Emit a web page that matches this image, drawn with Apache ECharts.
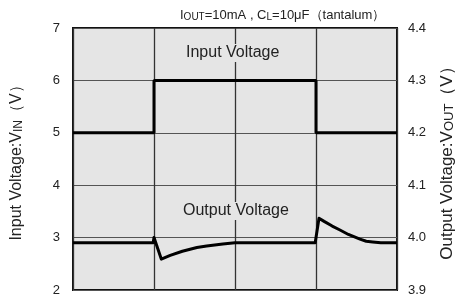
<!DOCTYPE html>
<html>
<head>
<meta charset="UTF-8">
<title>Load transient</title>
<script src="https://cdn.jsdelivr.net/npm/echarts@6/dist/echarts.min.js"></script>
<style>
  html, body { margin: 0; padding: 0; background: #fff; }
  #main { width: 461px; height: 301px; }
</style>
</head>
<body>
<div id="main"></div>
<script type="text/javascript">
    // time axis in grid divisions (0..4)
    var inputTime = [0, 1, 1, 3, 3, 4];
    var inputVolt = [5, 5, 6, 6, 5, 5];

    var outputTime = [0, 0.99, 1.0, 1.09, 1.2, 1.35, 1.53, 1.65, 1.85, 2.0, 2.99, 3.0, 3.037, 3.1, 3.2, 3.296, 3.4, 3.543, 3.62, 3.7, 3.8, 4];
    var outputVolt = [3.99, 3.99, 4.0, 3.959, 3.966, 3.974, 3.981, 3.984, 3.988, 3.99, 3.99, 3.99, 4.037, 4.031, 4.022, 4.0145, 4.006, 3.997, 3.993, 3.9916, 3.99, 3.99];

    var leftTicks = [2, 7, 1];          // min, max, interval
    var rightTicks = [3.9, 4.4, 0.1];

    var myChart = echarts.init(document.getElementById('main'));
    var font = 'Liberation Sans, Arial, sans-serif';

    var inputData = inputTime.map(function (t, i) { return [t, inputVolt[i]]; });
    var outputData = outputTime.map(function (t, i) { return [t, outputVolt[i]]; });

    function nameRich(size) {
        return {
            n: { fontSize: size, color: '#222', fontFamily: font, verticalAlign: 'bottom', lineHeight: size + 2 },
            s: { fontSize: size - 4, color: '#222', fontFamily: font, verticalAlign: 'bottom', lineHeight: size }
        };
    }

    var option = {
        backgroundColor: '#fff',
        animation: false,
        textStyle: { fontFamily: font },
        title: {
            text: '{n|I}{s|OUT}{n|=10mA , C}{s|L}{n|=10μF（tantalum）}',
            left: 175,
            top: 2,
            textStyle: {
                rich: {
                    n: { fontSize: 13, color: '#222', fontFamily: font, fontWeight: 'normal', verticalAlign: 'bottom', lineHeight: 15 },
                    s: { fontSize: 10, color: '#222', fontFamily: font, fontWeight: 'normal', verticalAlign: 'bottom', lineHeight: 13 }
                }
            }
        },
        grid: {
            left: 73, right: 64, top: 28, bottom: 11,
            outerBoundsMode: 'none',
            containLabel: false,
            show: true,
            backgroundColor: '#e5e5e5',
            borderColor: '#111',
            borderWidth: 2
        },
        xAxis: {
            type: 'value',
            min: 0, max: 4, interval: 1,
            axisLine: { show: false },
            axisTick: { show: false },
            axisLabel: { show: false },
            splitLine: { show: true, lineStyle: { color: '#333', width: 1.3 } }
        },
        yAxis: [
            {
                type: 'value',
                min: leftTicks[0], max: leftTicks[1], interval: leftTicks[2],
                position: 'left',
                name: '{n|Input Voltage:V}{s|IN}{n|（V）}',
                nameLocation: 'middle',
                nameGap: 48,
                nameTextStyle: { rich: nameRich(16) },
                axisLine: { show: false },
                axisTick: { show: false },
                axisLabel: { fontSize: 13, color: '#222', margin: 13 },
                splitLine: { show: true, lineStyle: { color: '#555', width: 1 } }
            },
            {
                type: 'value',
                min: rightTicks[0], max: rightTicks[1], interval: rightTicks[2],
                position: 'right',
                name: '{n|Output Voltage:V}{s|OUT}{n|（V）}',
                nameLocation: 'middle',
                nameGap: 40,
                nameRotate: 90,
                nameTextStyle: { rich: nameRich(17) },
                axisLine: { show: false },
                axisTick: { show: false },
                axisLabel: {
                    fontSize: 13, color: '#222', margin: 11,
                    formatter: function (v) { return v.toFixed(1); }
                },
                splitLine: { show: false }
            }
        ],
        graphic: [
            {
                type: 'text', left: 184, top: 44, z: 10,
                style: {
                    text: 'Input Voltage', fontSize: 16, fill: '#222',
                    fontFamily: font, backgroundColor: '#e5e5e5', padding: [1, 2]
                }
            },
            {
                type: 'text', left: 181, top: 202, z: 10,
                style: {
                    text: 'Output Voltage', fontSize: 16, fill: '#222',
                    fontFamily: font, backgroundColor: '#e5e5e5', padding: [1, 2]
                }
            }
        ],
        series: [
            {
                name: 'Input Voltage',
                type: 'line',
                yAxisIndex: 0,
                data: inputData,
                symbol: 'none',
                lineStyle: { color: '#000', width: 3 },
                z: 5
            },
            {
                name: 'Output Voltage',
                type: 'line',
                yAxisIndex: 1,
                data: outputData,
                symbol: 'none',
                lineStyle: { color: '#000', width: 3, join: 'round' },
                z: 5
            }
        ]
    };

    myChart.setOption(option);
</script>
</body>
</html>
